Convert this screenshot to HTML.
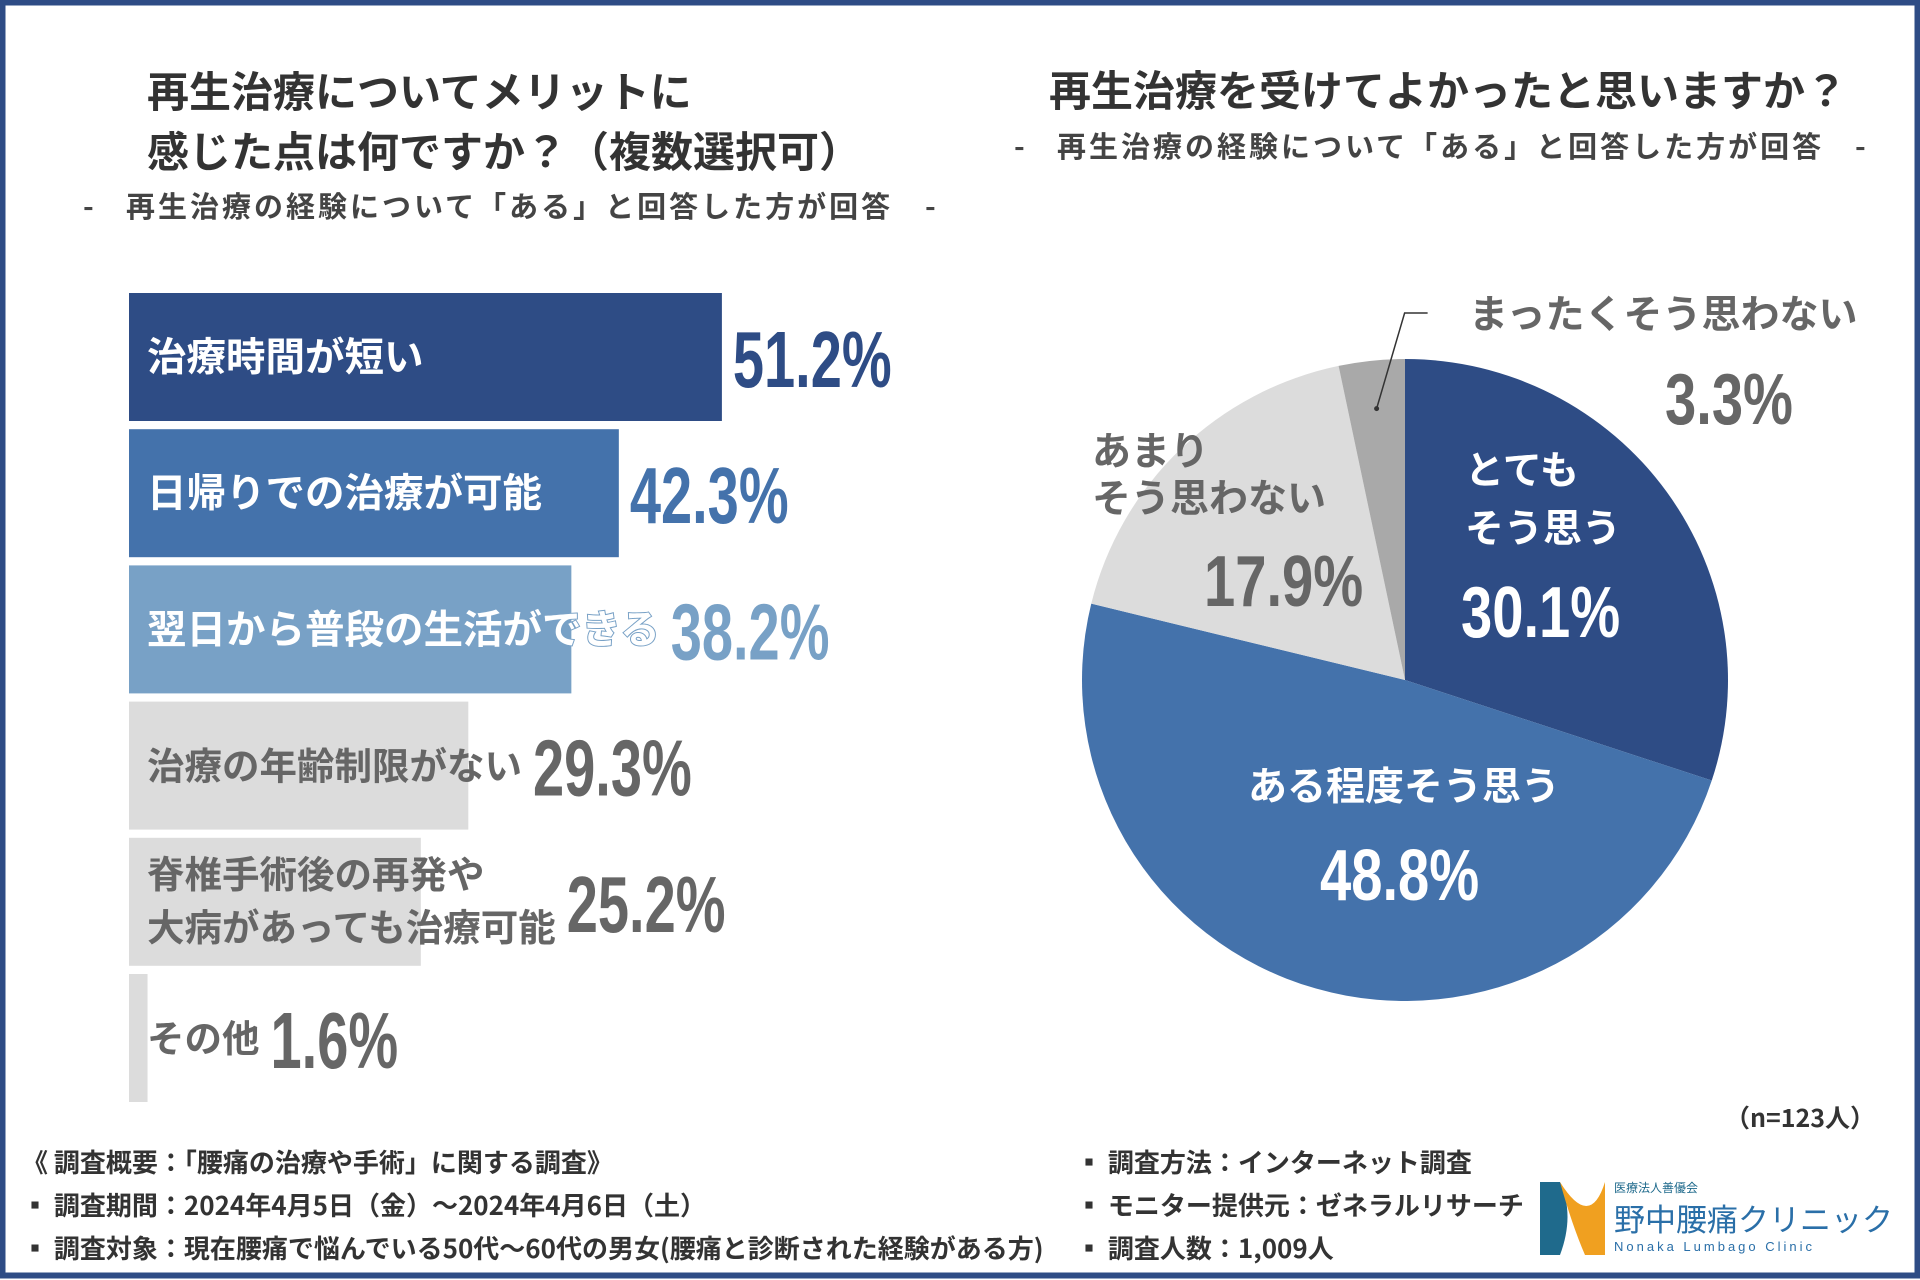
<!DOCTYPE html>
<html><head><meta charset="utf-8">
<style>
html,body{margin:0;padding:0;background:#fff;}
svg{display:block;}
text{font-family:"Liberation Sans","Noto Sans CJK JP",sans-serif;font-weight:bold;}
.jp{font-family:"Noto Sans CJK JP","Liberation Sans",sans-serif;font-weight:bold;}
.nb{font-weight:normal !important;}
</style></head>
<body>
<svg id="chart" width="1920" height="1280" viewBox="0 0 1920 1280" xmlns="http://www.w3.org/2000/svg">
  <rect x="2.5" y="2.5" width="1915" height="1273" fill="#fff" stroke="#2e4c85" stroke-width="6"/>
  <g>
    <text class="jp" x="147" y="107" font-size="42" fill="#333">再生治療についてメリットに</text>
    <text class="jp" x="147" y="167" font-size="42" fill="#333">感じた点は何ですか？（複数選択可）</text>
  </g>
  <g fill="#444">
    <text class="jp" x="83" y="217" font-size="29">-</text>
    <text class="jp" x="126" y="217" font-size="29" letter-spacing="3">再生治療の経験について「ある」と回答した方が回答</text>
    <text class="jp" x="925" y="217" font-size="29">-</text>
  </g>
  <text class="jp" x="1049" y="106" font-size="42" fill="#333">再生治療を受けてよかったと思いますか？</text>
  <g fill="#444">
    <text class="jp" x="1014" y="157" font-size="29">-</text>
    <text class="jp" x="1057" y="157" font-size="29" letter-spacing="3">再生治療の経験について「ある」と回答した方が回答</text>
    <text class="jp" x="1855" y="157" font-size="29">-</text>
  </g>
  <g id="bars"></g>
  <g id="pie"></g>
  <text class="jp" x="1875" y="1127" font-size="25" fill="#333" text-anchor="end">（n=123人）</text>
  <g fill="#333">
    <text class="jp" x="22" y="1172" font-size="26">《 調査概要：「腰痛の治療や手術」に関する調査》</text>
    <text class="jp" x="22" y="1215" font-size="26">▪ 調査期間：2024年4月5日（金）～2024年4月6日（土）</text>
    <text class="jp" x="22" y="1258" font-size="26">▪ 調査対象：現在腰痛で悩んでいる50代～60代の男女(腰痛と診断された経験がある方)</text>
    <text class="jp" x="1076" y="1172" font-size="26">▪ 調査方法：インターネット調査</text>
    <text class="jp" x="1076" y="1215" font-size="26">▪ モニター提供元：ゼネラルリサーチ</text>
    <text class="jp" x="1076" y="1258" font-size="26">▪ 調査人数：1,009人</text>
  </g>
  <g>
    <path d="M1540 1182 L1560 1182 Q1575 1215 1560 1255 L1540 1255 Z" fill="#1f6a8c"/>
    <path d="M1560 1182 Q1590 1230 1605 1182 L1605 1255 L1585 1255 Q1572 1225 1560 1182 Z" fill="#f0a020"/>
    <text class="jp nb" x="1614" y="1192" font-size="12" fill="#1f6a8c">医療法人善優会</text>
    <text class="jp nb" x="1614" y="1231" font-size="31" fill="#2a6fa8">野中腰痛クリニック</text>
    <text class="nb" x="1614" y="1251" font-size="13" fill="#2a6fa8" letter-spacing="3">Nonaka Lumbago Clinic</text>
  </g>
</svg>
<script>
const barLabels = [["治療時間が短い"],["日帰りでの治療が可能"],["翌日から普段の生活ができる"],["治療の年齢制限がない"],["脊椎手術後の再発や","大病があっても治療可能"],["その他"]];
const barValues = [51.2, 42.3, 38.2, 29.3, 25.2, 1.6];
const barValueLabels = ["51.2%","42.3%","38.2%","29.3%","25.2%","1.6%"];
const pieLabels = [["とても","そう思う"],["ある程度そう思う"],["あまり","そう思わない"],["まったくそう思わない"]];
const pieValues = [30.1, 48.8, 17.9, 3.3];
const pieValueLabels = ["30.1%","48.8%","17.9%","3.3%"];

const NS = "http://www.w3.org/2000/svg";
function mk(tag, attrs, parent){const e=document.createElementNS(NS,tag);for(const k in attrs)e.setAttribute(k,attrs[k]);parent.appendChild(e);return e;}

const x0 = 129, pxPerPct = 11.58;
const xScale = v => x0 + v * pxPerPct;
const barTop0 = 293, barStep = 136.2, barH = 128;
const yBand = i => barTop0 + i * barStep;
const barFill = ["#2e4c85","#4472ab","#78a1c6","#dcdcdc","#dcdcdc","#dcdcdc"];
const labFill = ["#fff","#fff","#fff","#666","#666","#666"];
const valFill = ["#2e4c85","#4472ab","#78a1c6","#666","#666","#666"];
const bars = document.getElementById('bars');
barValues.forEach((v,i)=>{
  const y = yBand(i);
  const r = mk('rect',{x:x0,y:y,width:xScale(v)-x0,height:barH,fill:barFill[i]},bars);
  
  
  const lines = barLabels[i];
  let maxR = 0;
  lines.forEach((ln,j)=>{
    const by = lines.length===1 ? y+barH/2+14 : y+barH/2-14+j*53;
    const attrs = {x:147,y:by,'font-size':i<3?39.5:37.5,fill:labFill[i],class:'jp'};
    if (i<3) { attrs.stroke = barFill[i]; attrs['stroke-width'] = 2; attrs['paint-order'] = 'stroke'; }
    const t = mk('text',attrs,bars);
    t.textContent = ln;
    
    
    maxR = Math.max(maxR, 147 + t.getComputedTextLength());
  });
  const vx = Math.max(xScale(v), maxR) + 11;
  const g = mk('g',{transform:`translate(${vx},${y+barH/2+30}) scale(0.7,1)`},bars);
  const vt = mk('text',{x:0,y:0,'font-size':80,fill:valFill[i]},g);
  vt.textContent = barValueLabels[i];
  
  
});

const cx=1405, cy=680, rx=323, ry=321;
const pieFill=["#2e4c85","#4472ab","#dcdcdc","#a9a9a9"];
const pt = a => [cx+rx*Math.sin(a), cy-ry*Math.cos(a)];
const pie = document.getElementById('pie');
const total = pieValues.reduce((a,b)=>a+b,0);
let acc=0;
const mids=[];
pieValues.forEach((v,i)=>{
  const a0=acc/total*2*Math.PI; acc+=v; const a1=acc/total*2*Math.PI;
  mids.push((a0+a1)/2);
  const [x1,y1]=pt(a0),[x2,y2]=pt(a1);
  const large=(a1-a0)>Math.PI?1:0;
  const p=mk('path',{d:`M${cx},${cy} L${x1},${y1} A${rx},${ry} 0 ${large} 1 ${x2},${y2} Z`,fill:pieFill[i]},pie);
  
  
});
const labPos=[{x:1465,ys:[484,542],vx:1461,vy:637,fs:72,c:"#fff"},
              {x:1248,ys:[800],vx:1320,vy:900,fs:72,c:"#fff"},
              {x:1092,ys:[465,512],vx:1204,vy:606,fs:72,c:"#666"},
              {x:1469,ys:[328],vx:1665,vy:424,fs:72,c:"#666"}];
pieLabels.forEach((ls,i)=>{
  const L=labPos[i];
  ls.forEach((ln,j)=>{
    const t=mk('text',{x:L.x,y:L.ys[j],'font-size':39,fill:L.c,class:'jp'},pie);
    t.textContent=ln;
    
    
  });
  const g=mk('g',{transform:`translate(${L.vx},${L.vy}) scale(0.78,1)`},pie);
  const vt=mk('text',{x:0,y:0,'font-size':L.fs,fill:L.c},g);
  vt.textContent=pieValueLabels[i];
  
  
});
const [lx,ly]=[cx+rx*0.85*Math.sin(mids[3]), cy-ry*0.85*Math.cos(mids[3])];
const ll=mk('polyline',{points:`${lx},${ly} ${lx+28},313 ${lx+51},313`,fill:'none',stroke:'#333','stroke-width':1.5},pie);


const dot=mk('circle',{cx:lx,cy:ly,r:2.5,fill:'#333'},pie);


</script>
</body></html>
